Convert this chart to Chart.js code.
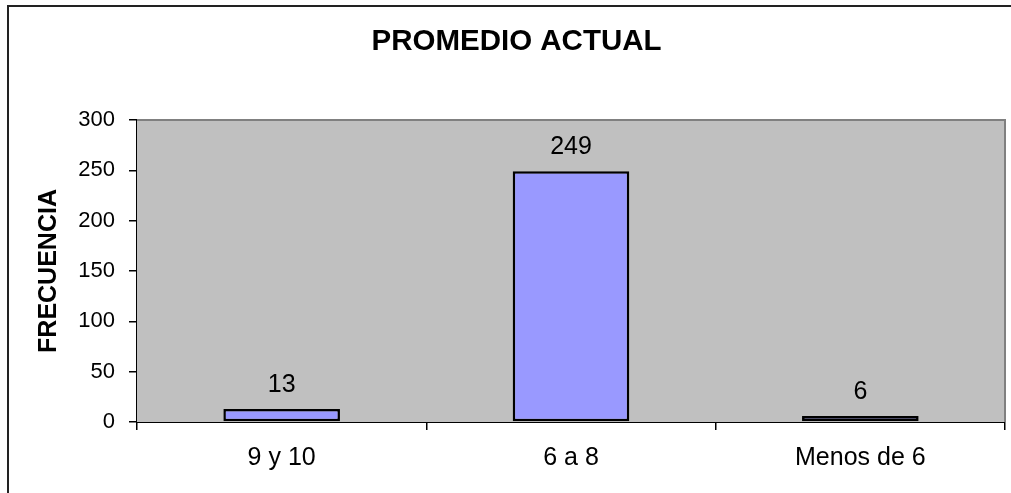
<!DOCTYPE html>
<html>
<head>
<meta charset="utf-8">
<title>PROMEDIO ACTUAL</title>
<script src="https://cdn.jsdelivr.net/npm/chart.js@4/dist/chart.umd.min.js"></script>
<style>
  html, body { margin: 0; padding: 0; background: #ffffff; }
  #wrap { width: 1011px; height: 493px; }
</style>
</head>
<body>
<div id="wrap"><canvas id="chart" width="1011" height="493"></canvas></div>
<script>
// Grade ranges and how many students fall in each
const categories = ['9 y 10', '6 a 8', 'Menos de 6'];
const frecuencia = [13, 249, 6];
const yTicks = [0, 50, 100, 150, 200, 250, 300];

const FONT = '"Liberation Sans", Arial, sans-serif';

// Gray plot background with a shaded top/right edge, plus the outer frame lines
const plotFrame = {
  id: 'plotFrame',
  beforeDatasetsDraw(chart) {
    const { ctx, chartArea: a } = chart;
    ctx.save();
    ctx.fillStyle = '#C0C0C0';
    ctx.fillRect(a.left, a.top, a.right - a.left, a.bottom - a.top);
    ctx.strokeStyle = '#808080';
    ctx.lineWidth = 2;
    ctx.beginPath();
    ctx.moveTo(a.left, a.top);
    ctx.lineTo(a.right, a.top);
    ctx.lineTo(a.right, a.bottom);
    ctx.stroke();
    ctx.restore();
  },
  afterDraw(chart) {
    const { ctx, width, height } = chart;
    ctx.save();
    ctx.fillStyle = '#222222';
    ctx.fillRect(7, 5, width - 7, 2);
    ctx.fillRect(7, 5, 2, height - 5);
    ctx.restore();
  }
};

// Value written above each bar
const barValues = {
  id: 'barValues',
  afterDatasetsDraw(chart) {
    const { ctx } = chart;
    const meta = chart.getDatasetMeta(0);
    const data = chart.data.datasets[0].data;
    ctx.save();
    ctx.font = '25px ' + FONT;
    ctx.fillStyle = '#000000';
    ctx.textAlign = 'center';
    ctx.textBaseline = 'alphabetic';
    meta.data.forEach((bar, i) => {
      ctx.fillText(String(data[i]), bar.x, bar.y - 17);
    });
    ctx.restore();
  }
};

new Chart(document.getElementById('chart'), {
  type: 'bar',
  data: {
    labels: categories,
    datasets: [{
      label: 'FRECUENCIA',
      data: frecuencia,
      backgroundColor: '#9999FF',
      borderColor: '#000000',
      borderWidth: 2.5,
      borderSkipped: false,
      categoryPercentage: 1,
      barPercentage: 0.403
    }]
  },
  options: {
    responsive: false,
    devicePixelRatio: 1,
    animation: false,
    layout: { padding: { left: 28, right: 6, top: 0, bottom: 0 } },
    plugins: {
      legend: { display: false },
      tooltip: { enabled: false },
      title: {
        display: true,
        text: 'PROMEDIO ACTUAL',
        color: '#000000',
        font: { family: FONT, size: 29.5, weight: 'bold', lineHeight: 1.2 },
        padding: { top: 24.3, bottom: 60.3 }
      }
    },
    scales: {
      x: {
        grid: {
          display: true,
          offset: true,
          drawOnChartArea: false,
          drawTicks: true,
          tickLength: 8,
          color: '#000000',
          lineWidth: 1.5
        },
        border: { display: true, color: '#000000', width: 2 },
        ticks: {
          color: '#000000',
          padding: 13.5,
          maxRotation: 0,
          font: { family: FONT, size: 25, lineHeight: 1.2 }
        },
        afterFit(scale) { scale.height = 71; }
      },
      y: {
        min: 0,
        max: 300,
        afterBuildTicks(scale) { scale.ticks = yTicks.map(v => ({ value: v })); },
        grid: {
          display: true,
          drawOnChartArea: false,
          drawTicks: true,
          tickLength: 8,
          color: '#000000',
          lineWidth: 1.5
        },
        border: { display: true, color: '#000000', width: 2 },
        ticks: {
          color: '#000000',
          padding: 14,
          font: { family: FONT, size: 22, lineHeight: 1.2 }
        },
        title: {
          display: true,
          text: 'FRECUENCIA',
          color: '#000000',
          font: { family: FONT, size: 25, weight: 'bold', lineHeight: 1.2 },
          padding: { top: 6.5, bottom: 0 }
        },
        afterFit(scale) { scale.width = 109; }
      }
    }
  },
  plugins: [plotFrame, barValues]
});
</script>
</body>
</html>
